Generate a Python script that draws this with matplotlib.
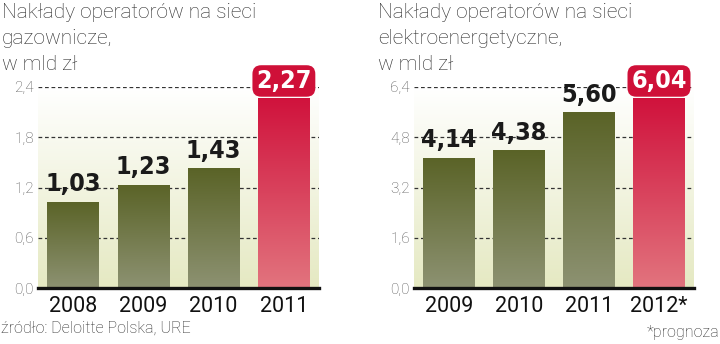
import numpy as np
import matplotlib
matplotlib.use("Agg")
import matplotlib.pyplot as plt
from matplotlib.colors import LinearSegmentedColormap
from matplotlib.transforms import blended_transform_factory

# dane
gaz_lata = ["2008", "2009", "2010", "2011"]
gaz_wartosci = [1.03, 1.23, 1.43, 2.27]
gaz_etykiety = ["1,03", "1,23", "1,43", "2,27"]
gaz_ticki = [0.0, 0.6, 1.2, 1.8, 2.4]
gaz_ticki_txt = ["0,0", "0,6", "1,2", "1,8", "2,4"]

el_lata = ["2009", "2010", "2011", "2012*"]
el_wartosci = [4.14, 4.38, 5.60, 6.04]
el_etykiety = ["4,14", "4,38", "5,60", "6,04"]
el_ticki = [0.0, 1.6, 3.2, 4.8, 6.4]
el_ticki_txt = ["0,0", "1,6", "3,2", "4,8", "6,4"]

tytul_gaz = "Nakłady operatorów na sieci\ngazownicze,\nw mld zł"
tytul_el = "Nakłady operatorów na sieci\nelektroenergetyczne,\nw mld zł"

TITLE_FONT = ["Roboto", "DejaVu Sans"]
NUM_FONT = ["DejaVu Sans"]

cm_bg = LinearSegmentedColormap.from_list("bg", ["#e5e9c2", "#ffffff"])
cm_green = LinearSegmentedColormap.from_list("gr", ["#8d9272", "#5a6327"])
cm_red = LinearSegmentedColormap.from_list("rd", ["#e2747e", "#d0123c"])
grad = np.linspace(0, 1, 256).reshape(-1, 1)

fig = plt.figure(figsize=(7.2, 3.44), dpi=100)


def panel(rect, lata, wartosci, etykiety, ticki, ticki_txt):
    ax = fig.add_axes(rect)
    ymax = ticki[-1]
    ax.imshow(grad, cmap=cm_bg, origin="lower", extent=[0, 1, 0, 1],
              transform=ax.transAxes, aspect="auto", zorder=0)
    x = np.arange(len(lata))
    bars = ax.bar(x, wartosci, width=0.73, color="none", zorder=2)
    for i, b in enumerate(bars):
        cmap = cm_red if i == len(bars) - 1 else cm_green
        im = ax.imshow(grad, cmap=cmap, origin="lower", aspect="auto",
                       extent=[b.get_x(), b.get_x() + b.get_width(), 0, b.get_height()],
                       zorder=2)
        im.set_clip_path(b)
    ax.set_xlim(-0.5, len(lata) - 0.5)
    ax.set_ylim(0, ymax)
    for t in ticki[1:]:
        ax.axhline(t, color="#333333", lw=0.9, ls=(0, (3, 2.2)), zorder=1)
    ax.set_yticks(ticki)
    ax.set_yticklabels(ticki_txt, family=TITLE_FONT, fontweight="light")
    ax.set_xticks(x)
    ax.set_xticklabels(lata, family=TITLE_FONT)
    ax.tick_params(axis="y", length=0, pad=3, labelsize=11, labelcolor="#555555")
    ax.tick_params(axis="x", length=0, pad=6, labelsize=15.5, labelcolor="#111111")
    for s in ["top", "left", "right"]:
        ax.spines[s].set_visible(False)
    ax.spines["bottom"].set_linewidth(2.4)
    ax.spines["bottom"].set_color("#111111")
    ax.spines["bottom"].set_zorder(4)
    # etykiety wartości
    for i, (v, e) in enumerate(zip(wartosci, etykiety)):
        if i == len(wartosci) - 1:
            tr = blended_transform_factory(ax.transData, ax.transAxes)
            ax.text(i, 1.03, e, transform=tr, ha="center", va="center",
                    fontsize=18, fontweight="bold", fontstretch="condensed",
                    family=NUM_FONT, color="white", zorder=5, clip_on=False,
                    bbox=dict(boxstyle="round,pad=0.15,rounding_size=0.35",
                              fc="#cf1038", ec="none"))
        else:
            ax.annotate(e, (i, v), xytext=(0, 4), textcoords="offset points",
                        ha="center", va="bottom", fontsize=18, fontweight="bold",
                        fontstretch="condensed", family=NUM_FONT,
                        color="#1a1a1a", zorder=5)
    return ax


panel([38 / 720, 1 - 288 / 344, 281 / 720, 201 / 344],
      gaz_lata, gaz_wartosci, gaz_etykiety, gaz_ticki, gaz_ticki_txt)
panel([414 / 720, 1 - 288 / 344, 280 / 720, 201 / 344],
      el_lata, el_wartosci, el_etykiety, el_ticki, el_ticki_txt)

fig.text(2 / 720, 1 - 3 / 344, tytul_gaz, ha="left", va="top", fontsize=15,
         family=TITLE_FONT, fontweight="light", color="#2a2a2a", linespacing=1.45)
fig.text(378 / 720, 1 - 3 / 344, tytul_el, ha="left", va="top", fontsize=15,
         family=TITLE_FONT, fontweight="light", color="#2a2a2a", linespacing=1.45)
fig.text(1 / 720, 1 - 328 / 344, "źródło: Deloitte Polska, URE", ha="left",
         va="center", fontsize=11.5, family=TITLE_FONT, fontweight="light",
         color="#2a2a2a")
fig.text(719 / 720, 1 - 332 / 344, "*prognoza", ha="right", va="center",
         fontsize=11.5, family=TITLE_FONT, fontweight="light", color="#2a2a2a")

fig.savefig("out.png", dpi=100)
